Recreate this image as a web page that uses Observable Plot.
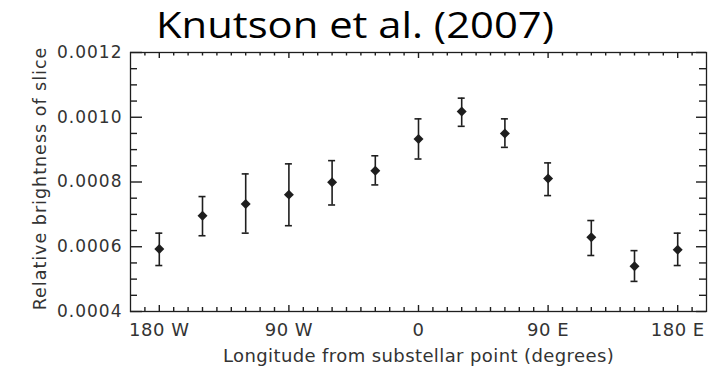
<!DOCTYPE html>
<html><head><meta charset="utf-8">
<script src="https://cdn.jsdelivr.net/npm/d3@7"></script>
<script src="https://cdn.jsdelivr.net/npm/@observablehq/plot@0.6"></script>
<style>
body{margin:0;background:#fff;}
#wrap{position:relative;width:713px;height:370px;}
#title{position:absolute;left:0;top:0;width:713px;text-align:center;font-family:"Open Sans",sans-serif;font-size:36px;line-height:normal;color:#000;transform:scaleX(1.16);transform-origin:355px 0;white-space:nowrap;}
#title span{position:relative;left:-1.5px;}
</style>
</head><body><div id="wrap"><div id="chart"></div><div id="title"></div></div>
<script>
const longitudes = [-180, -150, -120, -90, -60, -30, 0, 30, 60, 90, 120, 150, 180];
const brightness = [0.000593, 0.000696, 0.000732, 0.000761, 0.000799, 0.000835, 0.000933, 0.001018, 0.000950, 0.000811, 0.000629, 0.000540, 0.000591];
const errLow  = [0.000542, 0.000634, 0.000642, 0.000665, 0.000729, 0.000791, 0.000871, 0.000972, 0.000907, 0.000758, 0.000573, 0.000493, 0.000542];
const errHigh = [0.000642, 0.000755, 0.000825, 0.000856, 0.000866, 0.000881, 0.000995, 0.001059, 0.000995, 0.000859, 0.000681, 0.000588, 0.000642];
const xTickValues = [-180, -90, 0, 90, 180];
const xTickLabels = ["180 W", "90 W", "0", "90 E", "180 E"];
const yTickValues = [0.0004, 0.0006, 0.0008, 0.0010, 0.0012];
const titleText = "Knutson et al. (2007)";
const xLabelText = "Longitude from substellar point (degrees)";
const yLabelText = "Relative brightness of slice";

const xDomain = [-200, 200], yDomain = [0.0004, 0.0012];
const W = 713, H = 370, mL = 130, mR = 7, mT = 52, mB = 59;
const fw = W - mL - mR, fh = H - mT - mB;
const kx = (xDomain[1] - xDomain[0]) / fw;   // data units per pixel
const ky = (yDomain[1] - yDomain[0]) / fh;
const rows = longitudes.map((lon, i) => ({lon, b: brightness[i], lo: errLow[i], hi: errHigh[i]}));
const xMinor = d3.range(-190, 191, 10).filter(v => !xTickValues.includes(v));
const yMinor = d3.range(9, 24).map(k => +(k * 0.00005).toFixed(5)).filter(v => !yTickValues.some(t => Math.abs(t - v) < 1e-9));
const ink = "#1e1e1e", txt = "#333";
const tickStyle = {stroke: ink, strokeWidth: 1.4};

// inward ticks on all four sides (length in pixels)
const ticksBottom = (vals, len) => Plot.ruleX(vals, {x: d => d, y1: () => yDomain[0], y2: () => yDomain[0] + len * ky, ...tickStyle});
const ticksTop = (vals, len) => Plot.ruleX(vals, {x: d => d, y1: () => yDomain[1], y2: () => yDomain[1] - len * ky, ...tickStyle});
const ticksLeft = (vals, len) => Plot.ruleY(vals, {y: d => d, x1: () => xDomain[0], x2: () => xDomain[0] + len * kx, ...tickStyle});
const ticksRight = (vals, len) => Plot.ruleY(vals, {y: d => d, x1: () => xDomain[1], x2: () => xDomain[1] - len * kx, ...tickStyle});

const chart = Plot.plot({
  width: W, height: H,
  marginLeft: mL, marginRight: mR, marginTop: mT, marginBottom: mB,
  style: {fontFamily: "DejaVu Sans", background: "#fff", overflow: "visible"},
  x: {domain: xDomain},
  y: {domain: yDomain},
  marks: [
    Plot.frame({stroke: ink, strokeWidth: 1.3, fill: "none"}),
    Plot.axisX(xTickValues, {tickSize: 0, tickPadding: 12, tickFormat: d => xTickLabels[xTickValues.indexOf(d)], fontSize: 18, fill: txt, label: null}),
    Plot.axisY(yTickValues, {tickSize: 0, tickPadding: 8, tickFormat: d => d.toFixed(4), fontSize: 17, fill: txt, label: null}),
    ticksBottom(xMinor, 4), ticksBottom(xTickValues, 6),
    ticksTop(xMinor, 3.5), ticksTop(xTickValues, 6),
    ticksLeft(yMinor, 7), ticksLeft(yTickValues, 12),
    ticksRight(yMinor, 7), ticksRight(yTickValues, 10),
    Plot.ruleX(rows, {x: "lon", y1: "lo", y2: "hi", stroke: ink, strokeWidth: 1.6}),
    Plot.ruleY(rows, {y: "hi", x1: "lon", x2: "lon", insetLeft: -3.5, insetRight: -3.5, stroke: ink, strokeWidth: 1.6}),
    Plot.ruleY(rows, {y: "lo", x1: "lon", x2: "lon", insetLeft: -3.5, insetRight: -3.5, stroke: ink, strokeWidth: 1.6}),
    Plot.dot(rows, {x: "lon", y: "b", symbol: "diamond2", r: 4.5, fill: ink, stroke: "none"}),
    Plot.text([xLabelText], {frameAnchor: "bottom", text: d => d, dy: 50, lineAnchor: "bottom", fontSize: 18, fill: txt}),
    Plot.text([yLabelText], {frameAnchor: "left", textAnchor: "middle", text: d => d, rotate: -90, dx: 45 - mL, dy: 178 - (mT + fh / 2), lineAnchor: "bottom", fontSize: 17.5, fill: txt})
  ]
});
document.getElementById("chart").append(chart);
// letter spacing to match the wide lettering of the original
const spacing = new Map([[xLabelText, "0.4px"], [yLabelText, "1px"]]);
d3.select(chart).selectAll("text").each(function() {
  const t = this.textContent;
  if (spacing.has(t)) this.style.letterSpacing = spacing.get(t);
  else if (xTickLabels.includes(t)) this.style.letterSpacing = "0.5px";
  else if (/^0\.\d{4}$/.test(t)) this.style.letterSpacing = "1px";
});
const tspan = document.createElement("span");
tspan.textContent = titleText;
document.getElementById("title").append(tspan);
</script>
</body></html>
